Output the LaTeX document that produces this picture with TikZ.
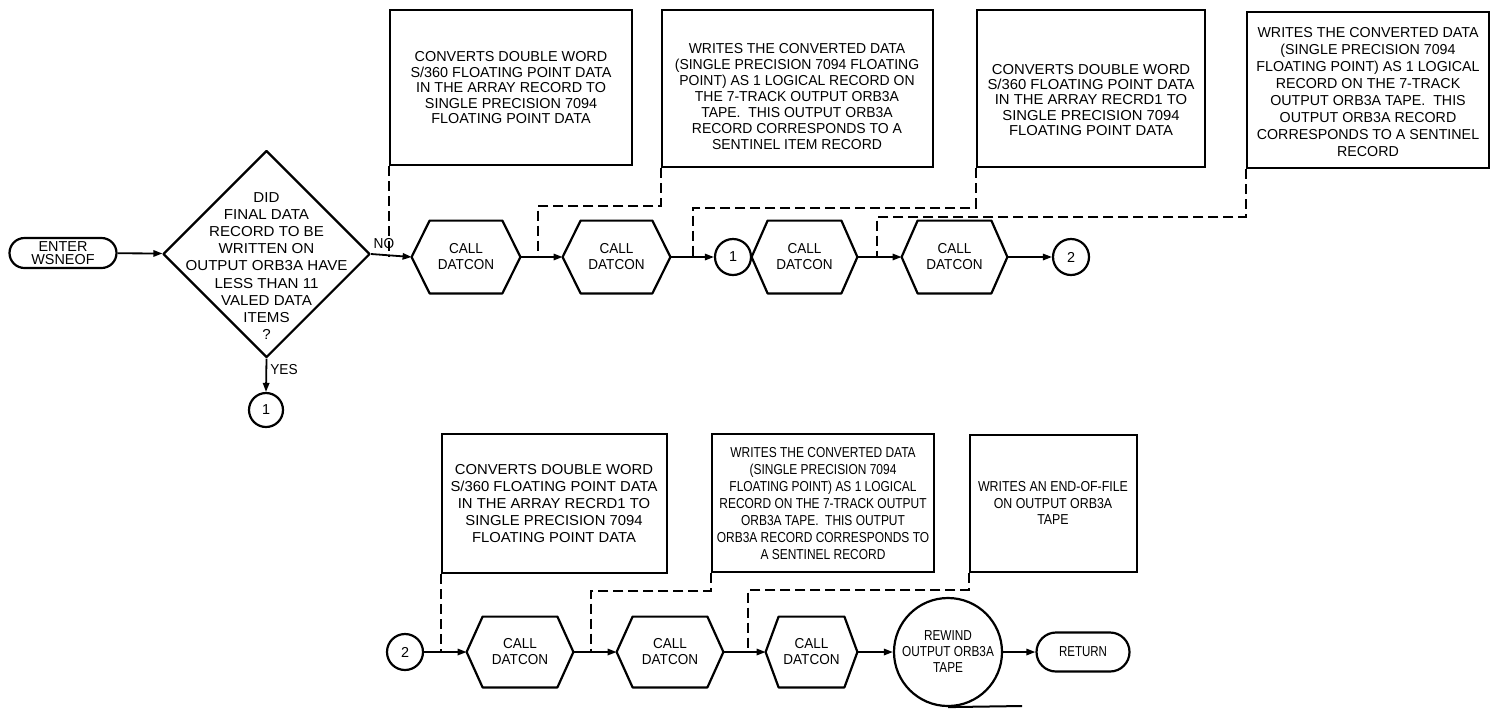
\documentclass[tikz,border=0pt]{standalone}
\usepackage{fontspec}
\setmainfont{Liberation Sans}
\usetikzlibrary{shapes.geometric,arrows.meta,fit}
\newcommand\hexa[2][9pt]{%
  \draw[shapeline] (#2.west) -- ([xshift=#1]#2.north west) -- ([xshift=-#1]#2.north east)
   -- (#2.east) -- ([xshift=-#1]#2.south east) -- ([xshift=#1]#2.south west) -- cycle;}
\begin{document}
\begin{tikzpicture}[x=0.5pt,y=-0.5pt,
  txt/.style 2 args={font=\fontsize{7.2}{#2}\selectfont\addfontfeatures{FakeStretch=#1}, align=center, inner sep=0pt},
  shapeline/.style={line width=1.1pt, line join=round},
  box/.style={draw, line width=1.3pt, inner sep=0pt},
  hexn/.style={minimum width=#1, minimum height=36pt, inner sep=0pt, txt={0.94}{8}},
  conn/.style={circle, draw, line width=1.1pt, minimum size=#1, inner sep=0pt, txt={1}{8}},
  term/.style={draw, line width=1.1pt, inner sep=0pt},
  arr/.style={line width=0.9pt, -{Triangle[length=4.5pt,width=3.2pt]}},
  dashline/.style={line width=0.9pt, dash pattern=on 5pt off 2.5pt},
  lab/.style={txt={0.95}{8}}
]
\useasboundingbox (0,0) rectangle (1491,713);

% ---------- top row ----------
\node[term, minimum width=53.5pt, minimum height=15pt, rounded corners=7.5pt, txt={1}{6.3}] (enter) at (63,253) {ENTER\\WSNEOF};
\node[diamond, draw, shapeline, minimum width=103.5pt, minimum height=103.5pt, inner sep=0pt] (dia) at (266.5,254) {};
\node[txt={1.05}{8.56}] (diat) at (266.5,266) {DID\\FINAL DATA\\RECORD TO BE\\WRITTEN ON\\OUTPUT ORB3A HAVE\\LESS THAN 11\\VALED DATA\\ITEMS\\?};
\node[conn=17pt] (c1a) at (266,410) {1};
\node[lab] (yes) at (284,370) {YES};
\node[lab] (no) at (384,244) {NO};

\node[hexn=54pt] (h1) at (466,257) {CALL\\DATCON};
\node[hexn=53.5pt] (h2) at (616.5,257) {CALL\\DATCON};
\node[conn=18pt] (c1b) at (733,257) {1};
\node[hexn=52.5pt] (h3) at (804.5,257) {CALL\\DATCON};
\node[hexn=52.5pt] (h4) at (954.5,257) {CALL\\DATCON};
\node[conn=18pt] (c2a) at (1071,257) {2};
\hexa{h1}\hexa{h2}\hexa[8pt]{h3}\hexa[8pt]{h4}

\node[box, fit={(390,10) (632,165)}] (b1) {};
\node[box, fit={(662,10) (933,167)}] (b2) {};
\node[box, fit={(977,10) (1205,167)}] (b3) {};
\node[box, fit={(1247,12) (1489,168)}] (b4) {};
\node[txt={1}{7.75}] (t1) at (511,88) {CONVERTS DOUBLE WORD\\S/360 FLOATING POINT DATA\\IN THE ARRAY RECORD TO\\SINGLE PRECISION 7094\\FLOATING POINT DATA};
\node[txt={0.97}{8}] (t2) at (797,97) {WRITES THE CONVERTED DATA\\(SINGLE PRECISION 7094 FLOATING\\POINT) AS 1 LOGICAL RECORD ON\\THE 7-TRACK OUTPUT ORB3A\\TAPE.\ \ THIS OUTPUT ORB3A\\RECORD CORRESPONDS TO A\\SENTINEL ITEM RECORD};
\node[txt={1.03}{7.6}] (t3) at (1091,100) {CONVERTS DOUBLE WORD\\S/360 FLOATING POINT DATA\\IN THE ARRAY RECRD1 TO\\SINGLE PRECISION 7094\\FLOATING POINT DATA};
\node[txt={0.99}{8.5}] (t4) at (1368,92) {WRITES THE CONVERTED DATA\\(SINGLE PRECISION 7094\\FLOATING POINT) AS 1 LOGICAL\\RECORD ON THE 7-TRACK\\OUTPUT ORB3A TAPE.\ \ THIS\\OUTPUT ORB3A RECORD\\CORRESPONDS TO A SENTINEL\\RECORD};

\draw[arr] (enter) -- (dia);
\draw[arr] (dia.east) -- (h1.west);
\draw[arr] (dia.south) -- (c1a.north);
\draw[arr] (h1.east) -- (h2.west);
\draw[arr] (h2.east) -- (c1b.west);
\draw[arr] (h3.east) -- (h4.west);
\draw[arr] (h4.east) -- (c2a.west);

\coordinate (k2) at (538,206);
\coordinate (k3) at (693,208);
\coordinate (k4) at (877,217);
\draw[dashline] (b1.south west) -- (b1.south west |- h1.west);
\draw[dashline] (b2.south west) |- (k2) -- (k2 |- h2.west);
\draw[dashline] (b3.south west) |- (k3) -- (k3 |- c1b.west);
\draw[dashline] (b4.south west) |- (k4) -- (k4 |- h4.west);

% ---------- bottom row ----------
\node[conn=18pt] (c2b) at (405,652) {2};
\node[hexn=53pt, minimum height=35pt] (h5) at (520,652) {CALL\\DATCON};
\node[hexn=53pt, minimum height=35pt] (h6) at (670,652) {CALL\\DATCON};
\node[hexn=45.5pt, minimum height=35pt] (h7) at (811.5,652) {CALL\\DATCON};
\hexa[8pt]{h5}\hexa[8pt]{h6}\hexa[6.5pt]{h7}
\node[circle, draw, line width=1.1pt, minimum size=54pt, inner sep=0pt, txt={0.82}{8}] (rew) at (948,652) {REWIND\\OUTPUT ORB3A\\TAPE};
\node[term, minimum width=46.5pt, minimum height=19.5pt, rounded corners=9.75pt, txt={0.8}{8}] (ret) at (1083,652) {RETURN};
\coordinate (rewend) at (1022,706);
\draw[line width=1pt] (rew.south) -- (rewend);

\node[box, fit={(442,434) (667,573)}] (b5) {};
\node[box, fit={(712,434) (934,572)}] (b6) {};
\node[box, fit={(970,435) (1137,572)}] (b7) {};
\node[txt={1.03}{8.5}] (t5) at (554,504) {CONVERTS DOUBLE WORD\\S/360 FLOATING POINT DATA\\IN THE ARRAY RECRD1 TO\\SINGLE PRECISION 7094\\FLOATING POINT DATA};
\node[txt={0.83}{8.5}] (t6) at (823,504) {WRITES THE CONVERTED DATA\\(SINGLE PRECISION 7094\\FLOATING POINT) AS 1 LOGICAL\\RECORD ON THE 7-TRACK OUTPUT\\ORB3A TAPE.\ \ THIS OUTPUT\\ORB3A RECORD CORRESPONDS TO\\A SENTINEL RECORD};
\node[txt={0.86}{8.3}] (t7) at (1053,503) {WRITES AN END-OF-FILE\\ON OUTPUT ORB3A\\TAPE};

\draw[arr] (c2b.east) -- (h5.west);
\draw[arr] (h5.east) -- (h6.west);
\draw[arr] (h6.east) -- (h7.west);
\draw[arr] (h7.east) -- (rew.west);
\draw[arr] (rew.east) -- (ret.west);

\coordinate (k6) at (591,591);
\coordinate (k7) at (748,590);
\draw[dashline] (b5.south west) -- (b5.south west |- h5.west);
\draw[dashline] (b6.south west) |- (k6) -- (k6 |- h6.west);
\draw[dashline] (b7.south west) |- (k7) -- (k7 |- h7.west);
\end{tikzpicture}
\end{document}
